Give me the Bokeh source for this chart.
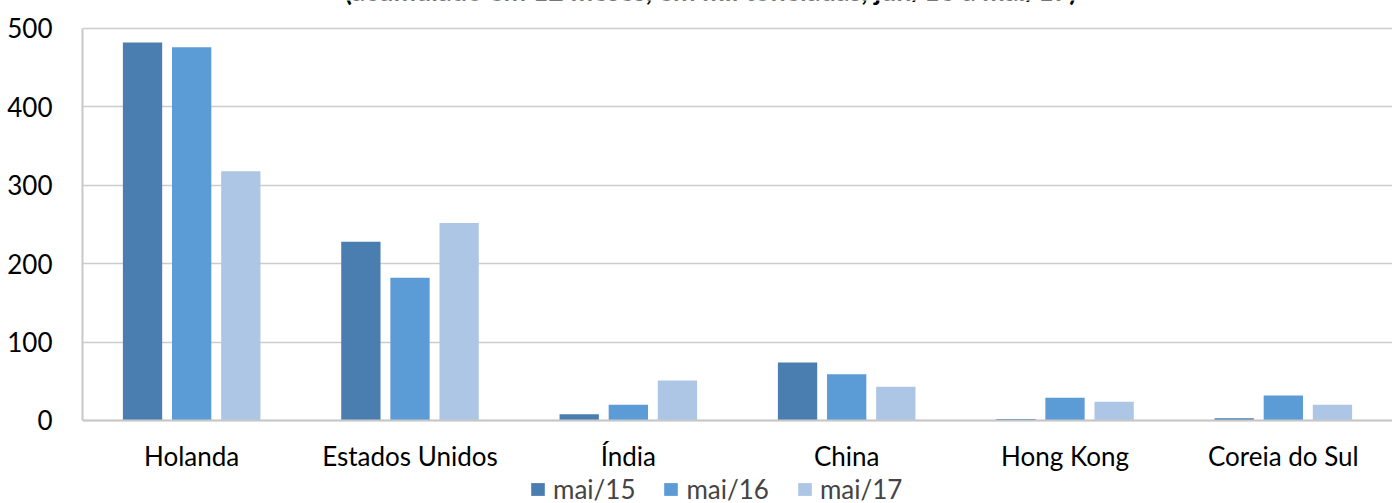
from bokeh.plotting import figure
from bokeh.models import ColumnDataSource, FactorRange, Legend, LegendItem, Label, FixedTicker
from bokeh.transform import dodge
from bokeh.embed import file_html
from bokeh.resources import INLINE

countries = ["Holanda", "Estados Unidos", "Índia", "China", "Hong Kong", "Coreia do Sul"]
mai15 = [482, 228, 8, 74, 2, 3]
mai16 = [476, 182, 20, 59, 29, 32]
mai17 = [318, 252, 51, 43, 24, 20]
series_names = ["mai/15", "mai/16", "mai/17"]
colors = ["#4a7eb0", "#5b9bd6", "#adc6e6"]
y_ticks = [0, 100, 200, 300, 400, 500]
title_text = "(acumulado em 12 meses, em mil toneladas, jun/16 a mai/17)"

FONT = "Lato"

source = ColumnDataSource(dict(country=countries, s15=mai15, s16=mai16, s17=mai17))

# the frame spans the full page height; the category axis sits at value 0
p = figure(x_range=FactorRange(*countries, range_padding=0), y_range=(-105.87, 535.71),
           width=1392, height=503, output_backend="svg", toolbar_location=None,
           min_border_left=82, min_border_right=0, min_border_top=0, min_border_bottom=0)
p.outline_line_color = None

renderers = []
for col, off, c in zip(["s15", "s16", "s17"], [-0.225, 0.0, 0.225], colors):
    r = p.vbar(x=dodge("country", off, range=p.x_range), top=col, width=0.18,
               source=source, fill_color=c, line_color=None)
    renderers.append(r)

p.xgrid.grid_line_color = None
p.ygrid.grid_line_color = "#cccccc"
p.ygrid.grid_line_width = 1.5
p.yaxis.ticker = FixedTicker(ticks=y_ticks)
p.yaxis.bounds = (0, 500)
p.xaxis.fixed_location = 0

for ax in (p.xaxis[0], p.yaxis[0]):
    ax.axis_line_color = "#c8c8c8"
    ax.axis_line_width = 2
    ax.major_tick_line_color = None
    ax.minor_tick_line_color = None
    ax.major_label_text_font = FONT
    ax.major_label_text_font_size = "26px"
    ax.major_label_text_color = "#000000"

p.yaxis.major_label_standoff = 24
p.xaxis.major_label_standoff = 14

legend = Legend(items=[LegendItem(label=n, renderers=[r]) for n, r in zip(series_names, renderers)],
                orientation="horizontal", location=(447, -2),
                glyph_width=17, glyph_height=16, label_standoff=7, spacing=27,
                padding=0, margin=0, border_line_color=None, background_fill_alpha=0,
                label_text_font=FONT, label_text_font_size="26px", label_height=16)
p.add_layout(legend, "center")

title = Label(x=2.877, y=549, text=title_text, text_align="center", text_baseline="alphabetic",
              text_font=FONT, text_font_size="27px", text_font_style="bold", text_color="#000000")
p.add_layout(title)

open("out.html", "w").write(file_html(p, INLINE))
